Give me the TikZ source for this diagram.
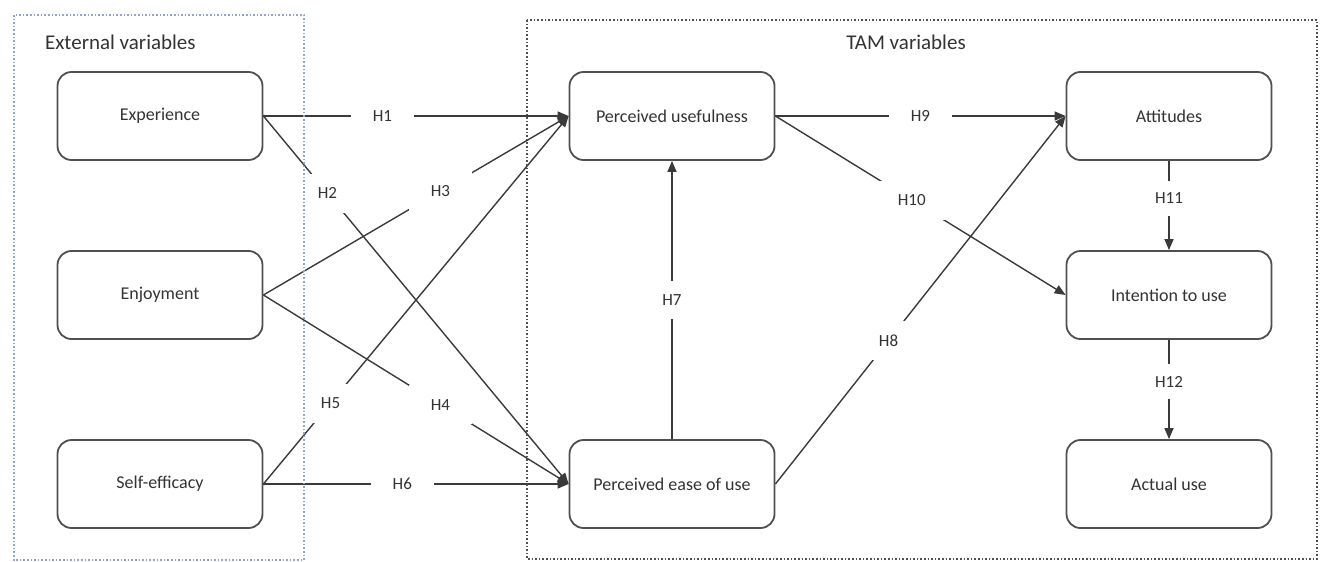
\documentclass[tikz,border=0pt]{standalone}
\usepackage{fontspec}
\setmainfont{Carlito}
\usetikzlibrary{arrows.meta,positioning}
\definecolor{LineGray}{HTML}{3A3A3A}
\definecolor{BoxGray}{HTML}{505050}
\definecolor{TextGray}{HTML}{333333}
\definecolor{FrameBlue}{HTML}{8EA6D6}
\tikzset{
  % variable box
  VB/.style={rectangle,rounded corners=7pt,
             minimum width=102.5pt,minimum height=44pt,
             draw=BoxGray,line width=0.9pt,fill=white,
             text=TextGray,font=\fontsize{9}{11}\selectfont},
  % hypothesis arrow
  hyp/.style={-{Triangle[length=5.5pt,width=4.5pt]},line width=0.7pt,draw=LineGray},
  % hypothesis label
  HL/.style={fill=white,inner xsep=11pt,inner ysep=7pt,text=TextGray,
             font=\fontsize{8.5}{10}\selectfont},
  % group frames
  grpE/.style={draw=FrameBlue,densely dotted,line width=0.8pt},
  grpT/.style={draw=BoxGray,densely dotted,line width=0.8pt},
  grpL/.style={text=TextGray,font=\fontsize{10.5}{12}\selectfont}
}
\begin{document}
\begin{tikzpicture}[x=0.5pt,y=-0.5pt]
  \useasboundingbox (0,0) rectangle (1323,562);

  % external variables
  \node[VB] (exp) at (160,116) {Experience};
  \node[VB] (enj) at (160,295) {Enjoyment};
  \node[VB] (self) at (160,484) {Self-efficacy};
  % TAM variables
  \node[VB] (pu)   at (672,116) {Perceived usefulness};
  \node[VB] (peou) at (672,484) {Perceived ease of use};
  \node[VB] (att)  at (1169,116) {Attitudes};
  \node[VB] (int)  at (1169,295) {Intention to use};
  \node[VB] (act)  at (1169,484) {Actual use};

  % hypotheses
  \draw[hyp] (exp.east)  -- node[HL,pos=0.39]{H1} (pu.west);
  \draw[hyp] (exp.east)  -- node[HL,pos=0.21]{H2} (peou.west);
  \draw[hyp] (enj.east)  -- node[HL,pos=0.58]{H3} (pu.west);
  \draw[hyp] (enj.east)  -- node[HL,pos=0.58]{H4} (peou.west);
  \draw[hyp] (self.east) -- node[HL,pos=0.22]{H5} (pu.west);
  \draw[hyp] (self.east) -- node[HL,pos=0.455]{H6} (peou.west);
  \draw[hyp] (peou.north) -- node[HL,pos=0.5]{H7} (pu.south);
  \draw[hyp] (peou.east) -- node[HL,pos=0.39]{H8} (att.west);
  \draw[hyp] (pu.east)   -- node[HL,pos=0.5]{H9} (att.west);
  \draw[hyp] (pu.east)   -- node[HL,pos=0.47]{H10} (int.west);
  \draw[hyp] (att.south) -- node[HL,pos=0.42,inner ysep=6pt]{H11} (int.north);
  \draw[hyp] (int.south) -- node[HL,pos=0.42,inner ysep=6pt]{H12} (act.north);

  % frames
  \draw[grpE] (14,15) rectangle (304,560);
  \draw[grpT] (527,20) rectangle (1317,559);
  \node[grpL,anchor=west] (extlab) at (38,42) {External variables};
  \node[grpL] (tamlab) at (906,42) {TAM variables};
\end{tikzpicture}
\end{document}
